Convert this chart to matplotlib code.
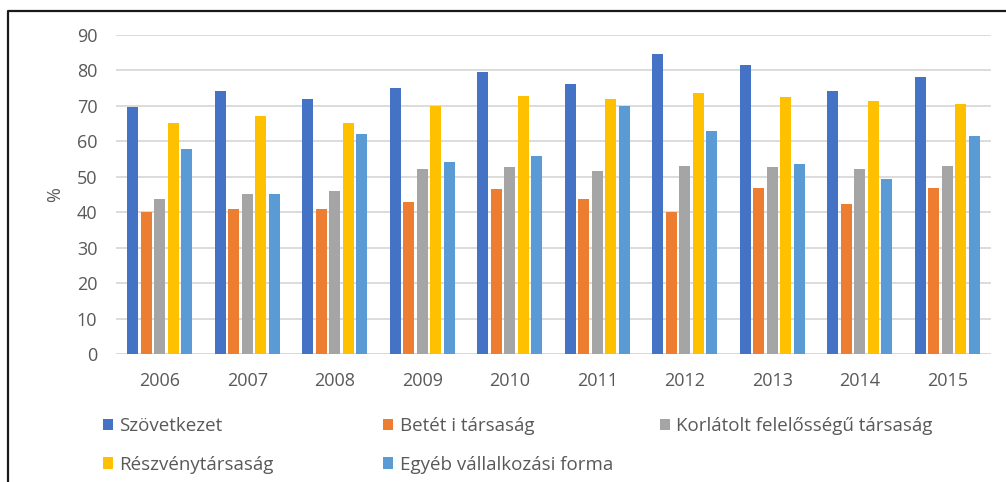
import matplotlib
matplotlib.use("Agg")
import matplotlib.pyplot as plt
import numpy as np
from matplotlib.lines import Line2D
from matplotlib.patches import Patch

years = ["2006", "2007", "2008", "2009", "2010", "2011", "2012", "2013", "2014", "2015"]
series_names = ["Szövetkezet", "Betét i társaság", "Korlátolt felelősségű társaság",
                "Részvénytársaság", "Egyéb vállalkozási forma"]
szovetkezet = [69.5, 74.2, 71.8, 75.1, 79.4, 76.0, 84.5, 81.6, 74.2, 78.0]
beteti = [40.0, 40.8, 40.8, 42.8, 46.5, 43.6, 40.0, 46.9, 42.2, 46.9]
kft = [43.6, 45.0, 46.0, 52.1, 52.6, 51.6, 53.0, 52.6, 52.1, 53.0]
rt = [65.2, 67.1, 65.2, 69.9, 72.7, 71.8, 73.7, 72.3, 71.3, 70.4]
egyeb = [57.7, 45.0, 61.9, 54.0, 55.8, 69.9, 62.9, 53.5, 49.3, 61.5]
yticks = [0, 10, 20, 30, 40, 50, 60, 70, 80, 90]

colors = ["#4472C4", "#ED7D31", "#A5A5A5", "#FFC000", "#5B9BD5"]
txt = "#595959"
plt.rcParams['font.family'] = ['Open Sans', 'DejaVu Sans']

W, H = 1006, 482
fig = plt.figure(figsize=(W / 100, H / 100), dpi=100)
ax = fig.add_axes([116 / W, 1 - 354 / H, (991 - 116) / W, (354 - 34.7) / H])

x = np.arange(len(years))
data = [szovetkezet, beteti, kft, rt, egyeb]
pitch = 0.153
bw = 0.126
for i, (vals, c) in enumerate(zip(data, colors)):
    ax.bar(x + (i - 2) * pitch, vals, width=bw, color=c, zorder=3)

ax.set_xlim(-0.5, len(years) - 0.5)
ax.set_ylim(0, 90)
ax.set_yticks(yticks)
ax.set_xticks(x)
ax.set_xticklabels(years)
ax.grid(axis='y', color="#D9D9D9", linewidth=1.3, zorder=0)
ax.set_axisbelow(True)
for s in ax.spines.values():
    s.set_visible(False)
ax.axhline(0, color="#D9D9D9", linewidth=1.3, zorder=1)
ax.tick_params(axis='both', length=0, labelsize=13, colors=txt)
ax.tick_params(axis='y', pad=13.5)
ax.tick_params(axis='x', pad=13)
ax.set_ylabel("%", fontsize=13, color=txt, labelpad=9)

def mk(i):
    return Patch(facecolor=colors[i], edgecolor='none')

cols = [(103, [0, 3]), (383, [1, 4]), (660, [2])]
for xp, idx in cols:
    fig.legend([mk(i) for i in idx], [series_names[i] for i in idx],
               loc='upper left', bbox_to_anchor=(xp / W, 1 - 417 / H),
               frameon=False, fontsize=13.5, labelcolor=txt,
               handlelength=0.55, handleheight=0.55, handletextpad=0.33,
               borderpad=0, borderaxespad=0, labelspacing=1.1)

fig.add_artist(Line2D([7.5 / W, 7.5 / W, 1.0], [0.0, 1 - 10.5 / H, 1 - 10.5 / H],
                      transform=fig.transFigure, color="#1a1a1a", linewidth=1.6))

fig.savefig("out.png", dpi=100)
